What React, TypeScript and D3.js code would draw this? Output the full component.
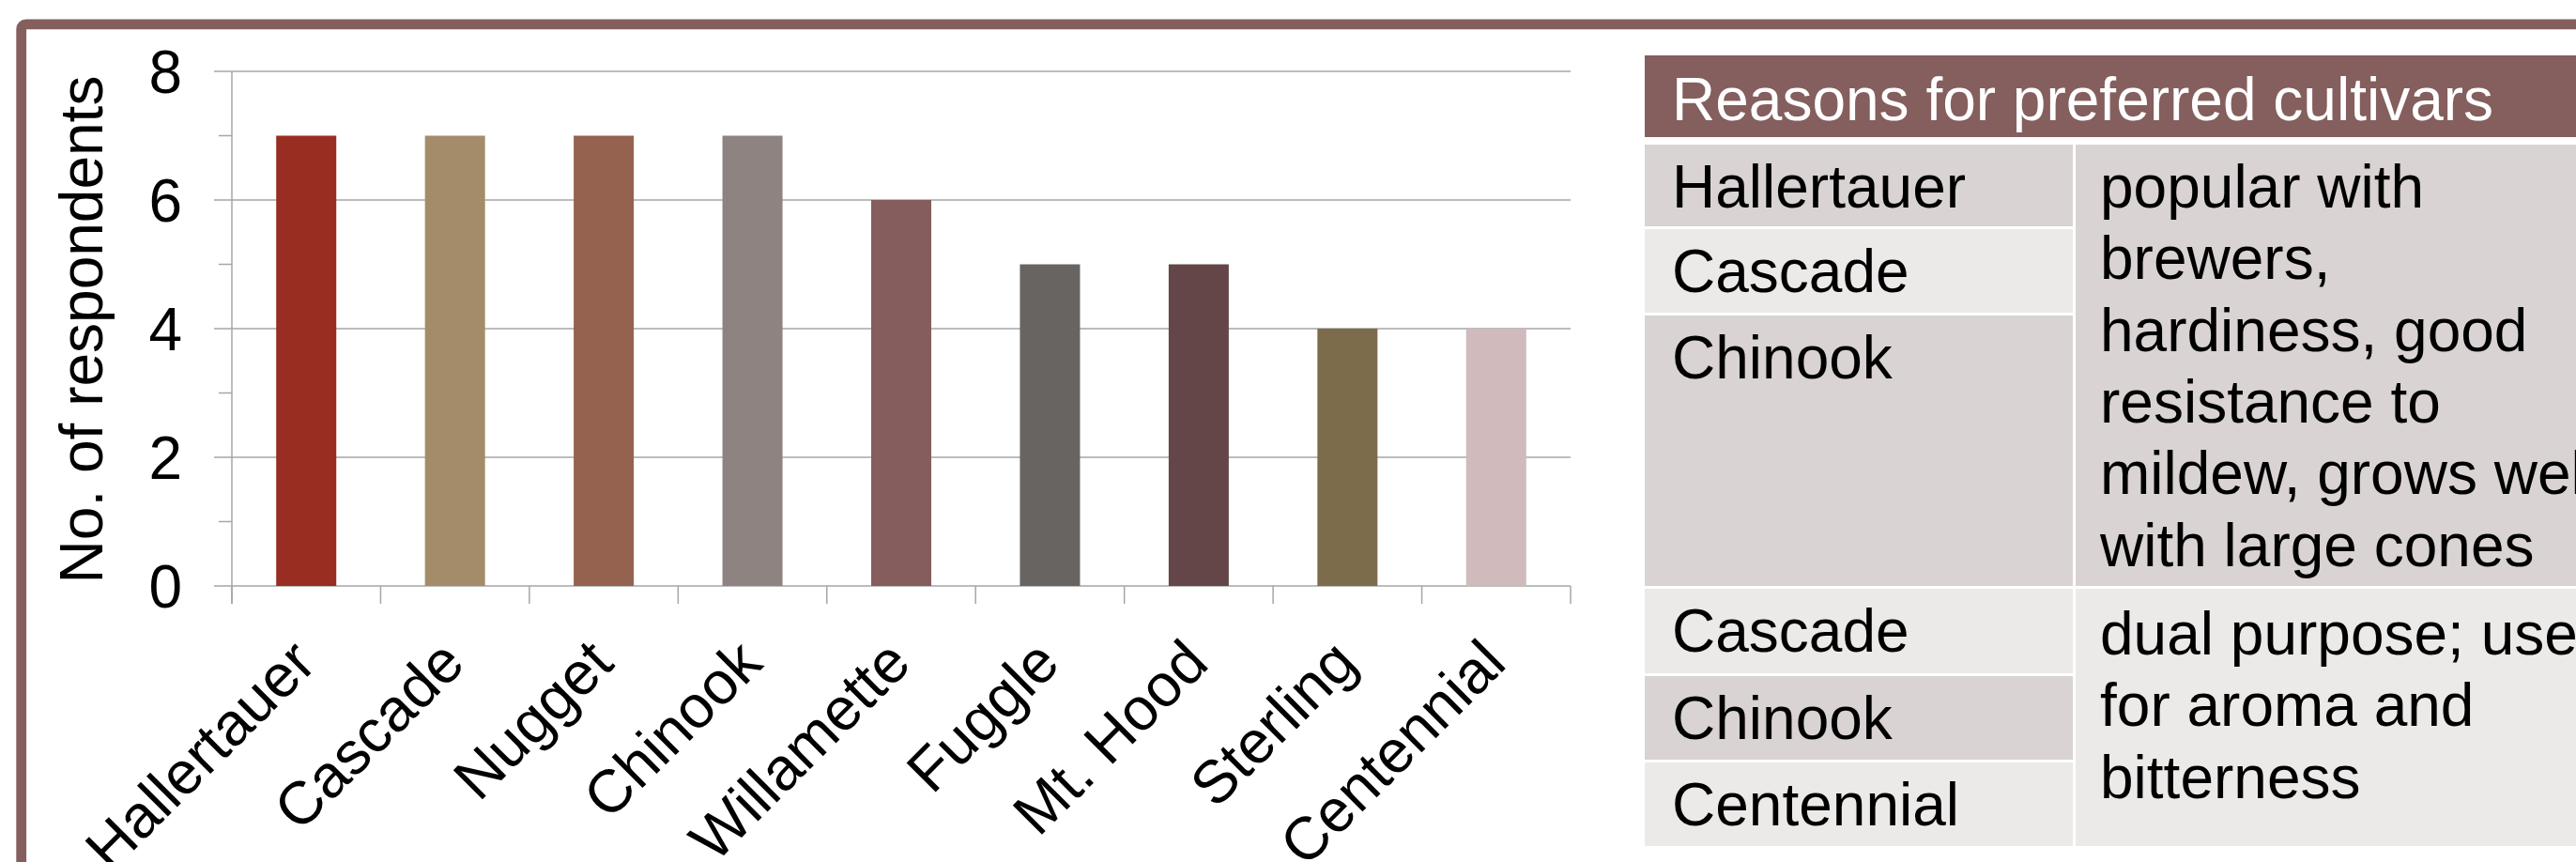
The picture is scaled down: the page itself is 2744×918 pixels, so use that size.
import React from "react";
import * as d3 from "d3";

// ---- data ----
const categories = ["Hallertauer", "Cascade", "Nugget", "Chinook", "Willamette", "Fuggle", "Mt. Hood", "Sterling", "Centennial"];
const respondents = [7, 7, 7, 7, 6, 5, 5, 4, 4];
const barColors = ["#992D22", "#A48C6A", "#956250", "#8F8382", "#845D5C", "#686462", "#644648", "#7D6C4C", "#D0BABB"];
const yMajorTicks = [0, 2, 4, 6, 8];
const yMinorTicks = [1, 3, 5, 7];
const yAxisTitle = "No. of respondents";

const tableTitle = "Reasons for preferred cultivars";
const groupACultivars = ["Hallertauer", "Cascade", "Chinook"];
const groupAReason = ["popular with", "brewers,", "hardiness, good", "resistance to", "mildew, grows well", "with large cones"];
const groupBCultivars = ["Cascade", "Chinook", "Centennial"];
const groupBReason = ["dual purpose; used", "for aroma and", "bitterness"];

// ---- layout ----
const W = 2744;
const H = 918;
const FONT = "'Liberation Sans', Arial, Helvetica, sans-serif";
const FS = 64;
const frameColor = "#855E5E";
const gridColor = "#A6A6A6";
const darkRow = "#D9D3D3";
const lightRow = "#ECEAE9";

const plotLeft = 247;
const plotRight = 1673;
const plotTop = 76;
const plotBottom = 624;

export default function App() {
  const x = d3.scaleBand<string>().domain(categories).range([plotLeft, plotRight]).paddingInner(0.596).paddingOuter(0.298);
  const xb = d3.scaleBand<string>().domain(categories).range([plotLeft, plotRight]).padding(0);
  const y = d3.scaleLinear().domain([0, 8]).range([plotBottom, plotTop]);
  const boundaries = categories.map((c) => xb(c) as number).concat([plotRight]);

  // table geometry
  const tLeft = 1752;
  const tDiv = 2208;
  const tRightStart = 2211;
  const tEnd = 2800;
  const headerTop = 59;
  const headerBottom = 146;
  const leftRows = [
    { name: groupACultivars[0], top: 154, bottom: 241, fill: darkRow },
    { name: groupACultivars[1], top: 244, bottom: 333, fill: lightRow },
    { name: groupACultivars[2], top: 336, bottom: 624, fill: darkRow },
    { name: groupBCultivars[0], top: 627, bottom: 717, fill: lightRow },
    { name: groupBCultivars[1], top: 720, bottom: 809, fill: darkRow },
    { name: groupBCultivars[2], top: 812, bottom: 901, fill: lightRow },
  ];
  const rightCells = [
    { lines: groupAReason, top: 154, bottom: 624, fill: darkRow, first: 221 },
    { lines: groupBReason, top: 627, bottom: 901, fill: lightRow, first: 697 },
  ];
  const lineH = 76.3;

  return (
    <svg
      width={W}
      height={H}
      viewBox={`0 0 ${W} ${H}`}
      style={{ position: "fixed", left: 0, top: 0, display: "block", background: "#fff" }}
      fontFamily={FONT}
    >
      <rect x={0} y={0} width={W} height={H} fill="#ffffff" />
      {/* frame */}
      <rect x={22.7} y={25.8} width={3200} height={1400} rx={5} ry={5} fill="none" stroke={frameColor} strokeWidth={10.8} />

      {/* gridlines */}
      {yMajorTicks.map((t) => (
        <line key={"g" + t} x1={plotLeft - 19} x2={plotRight} y1={y(t)} y2={y(t)} stroke={gridColor} strokeWidth={1.5} />
      ))}
      {yMinorTicks.map((t) => (
        <line key={"m" + t} x1={plotLeft - 14} x2={plotLeft} y1={y(t)} y2={y(t)} stroke={gridColor} strokeWidth={1.5} />
      ))}
      {/* y axis line */}
      <line x1={plotLeft} x2={plotLeft} y1={plotTop} y2={plotBottom + 19} stroke={gridColor} strokeWidth={1.5} />
      {/* x ticks */}
      {boundaries.map((b, i) => (
        <line key={"xt" + i} x1={b} x2={b} y1={plotBottom} y2={plotBottom + 19} stroke={gridColor} strokeWidth={1.5} />
      ))}

      {/* bars */}
      {categories.map((c, i) => (
        <rect key={c} x={x(c)} y={y(respondents[i])} width={x.bandwidth()} height={y(0) - y(respondents[i])} fill={barColors[i]} />
      ))}

      {/* y tick labels */}
      {yMajorTicks.map((t) => (
        <text key={"yl" + t} x={194} y={y(t)} dy="0.355em" textAnchor="end" fontSize={FS} fill="#000">
          {t}
        </text>
      ))}
      {/* y axis title */}
      <text transform={`translate(109, ${(plotTop + plotBottom) / 2 + 1}) rotate(-90)`} textAnchor="middle" fontSize={FS} fill="#000">
        {yAxisTitle}
      </text>

      {/* x labels */}
      {categories.map((c) => {
        const cx = (x(c) as number) + x.bandwidth() / 2;
        return (
          <text key={"xl" + c} transform={`translate(${cx + 13}, ${plotBottom + 85}) rotate(-45)`} textAnchor="end" fontSize={FS} fill="#000">
            {c}
          </text>
        );
      })}

      {/* table */}
      <rect x={tLeft} y={headerTop} width={tEnd - tLeft} height={headerBottom - headerTop} fill={frameColor} />
      <text x={1781} y={128} fontSize={FS} fill="#ffffff">
        {tableTitle}
      </text>
      {leftRows.map((r, i) => (
        <g key={"lr" + i}>
          <rect x={tLeft} y={r.top} width={tDiv - tLeft} height={r.bottom - r.top} fill={r.fill} />
          <text x={1781} y={r.top + 67} fontSize={FS} fill="#000">
            {r.name}
          </text>
        </g>
      ))}
      {rightCells.map((cell, i) => (
        <g key={"rc" + i}>
          <rect x={tRightStart} y={cell.top} width={tEnd - tRightStart} height={cell.bottom - cell.top} fill={cell.fill} />
          {cell.lines.map((ln, j) => (
            <text key={j} x={2237} y={cell.first + j * lineH} fontSize={FS} fill="#000">
              {ln}
            </text>
          ))}
        </g>
      ))}
    </svg>
  );
}
